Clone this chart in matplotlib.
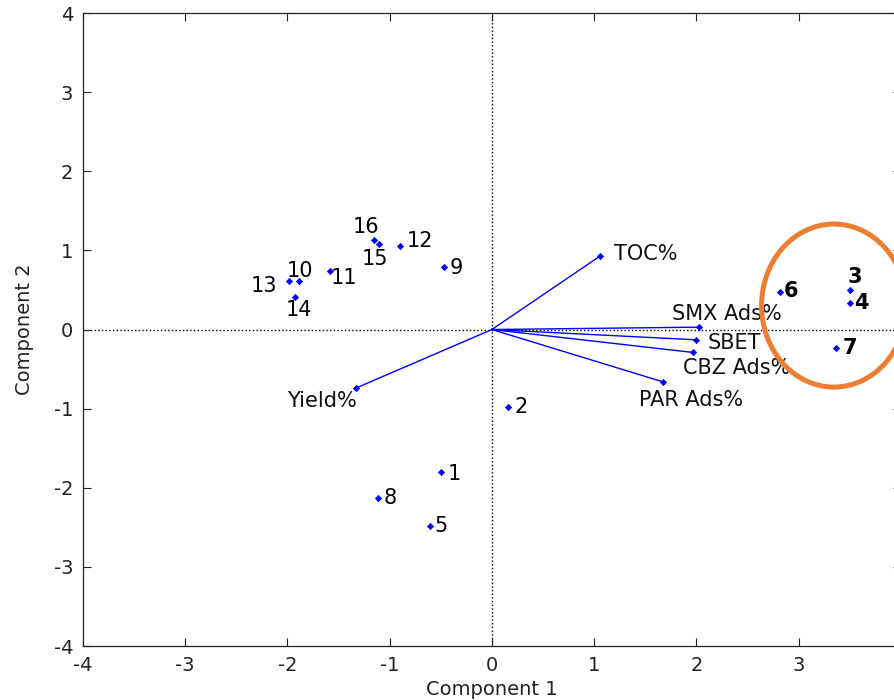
import numpy as np
import matplotlib.pyplot as plt
from matplotlib.patches import Ellipse

# scores of the 16 samples on the first two components
obs_labels = ["1", "2", "3", "4", "5", "6", "7", "8",
              "9", "10", "11", "12", "13", "14", "15", "16"]
obs_x = [-0.50, 0.16, 3.50, 3.50, -0.61, 2.82, 3.37, -1.11,
         -0.47, -1.89, -1.58, -0.90, -1.98, -1.93, -1.10, -1.15]
obs_y = [-1.80, -0.98, 0.50, 0.33, -2.48, 0.48, -0.23, -2.13,
         0.79, 0.61, 0.74, 1.05, 0.61, 0.41, 1.08, 1.13]
bold_obs = ["3", "4", "6", "7"]

# loadings (variable vectors)
var_labels = ["TOC%", "SMX Ads%", "SBET", "CBZ Ads%", "PAR Ads%", "Yield%"]
var_x = [1.06, 2.03, 2.00, 1.97, 1.67, -1.33]
var_y = [0.93, 0.03, -0.13, -0.29, -0.66, -0.74]

ticks = [-4, -3, -2, -1, 0, 1, 2, 3, 4]
xtick_labels = ["-4", "-3", "-2", "-1", "0", "1", "2", "3", ""]
ytick_labels = ["-4", "-3", "-2", "-1", "0", "1", "2", "3", "4"]

# label offsets in pixels (dx, dy)
obs_off = {"1": (14, -2), "2": (13, 0), "3": (5, 13), "4": (12, 0),
           "5": (11, 0), "6": (11, 1), "7": (13, 0), "8": (12, 0),
           "9": (12, -1), "10": (1, 10), "11": (14, -7), "12": (20, 5),
           "13": (-26, -5), "14": (4, -13), "15": (-4, -15), "16": (-8, 13)}
var_off = {"TOC%": (46, 2), "SMX Ads%": (27, 13), "SBET": (38, -3),
           "CBZ Ads%": (43, -16), "PAR Ads%": (28, -18), "Yield%": (-34, -13)}

plt.rcParams['font.family'] = ['DejaVu Sans']
plt.rcParams['axes.unicode_minus'] = False

fig = plt.figure(figsize=(8.94, 7.0), dpi=100)
ax = fig.add_axes([0.0928, 0.0771, 0.9148, 0.9043])

ax.axhline(0, color='black', ls=':', lw=1, zorder=1)
ax.axvline(0, color='black', ls=':', lw=1, zorder=1)

for vx, vy, lab in zip(var_x, var_y, var_labels):
    ax.plot([0, vx], [0, vy], color='blue', lw=1, zorder=2)
    ax.plot(vx, vy, 'D', color='blue', ms=3.2, mew=0.5, zorder=3)
    ax.annotate(lab, (vx, vy), xytext=var_off[lab], textcoords='offset pixels',
                ha='center', va='center', fontsize=15, color='#111111')

ax.plot(obs_x, obs_y, 'D', color='blue', ms=3.2, mew=0.5, ls='none', zorder=3)
for ox, oy, lab in zip(obs_x, obs_y, obs_labels):
    ax.annotate(lab, (ox, oy), xytext=obs_off[lab], textcoords='offset pixels',
                ha='center', va='center', fontsize=15, color='black',
                fontweight='bold' if lab in bold_obs else 'normal')

# highlight ring around samples 3, 4, 6, 7
ring = Ellipse((3.346, 0.303), 1.416, 2.061, fill=False,
               edgecolor='#ED7D31', lw=3.6, clip_on=False, zorder=4)
ax.add_patch(ring)

ax.set_xlim(-4, 4)
ax.set_ylim(-4, 4)
ax.set_xticks(ticks)
ax.set_xticklabels(xtick_labels)
ax.set_yticks(ticks)
ax.set_yticklabels(ytick_labels)
ax.tick_params(direction='in', length=5.5, width=0.8, top=True, right=True,
               labelsize=14, pad=7, colors='#222222')
for s in ax.spines.values():
    s.set_linewidth(0.9)
    s.set_color('#222222')

ax.set_xlabel('Component 1', fontsize=14, color='#222222', labelpad=4)
ax.set_ylabel('Component 2', fontsize=14, color='#222222', labelpad=14)

fig.savefig('out.png', dpi=100)
